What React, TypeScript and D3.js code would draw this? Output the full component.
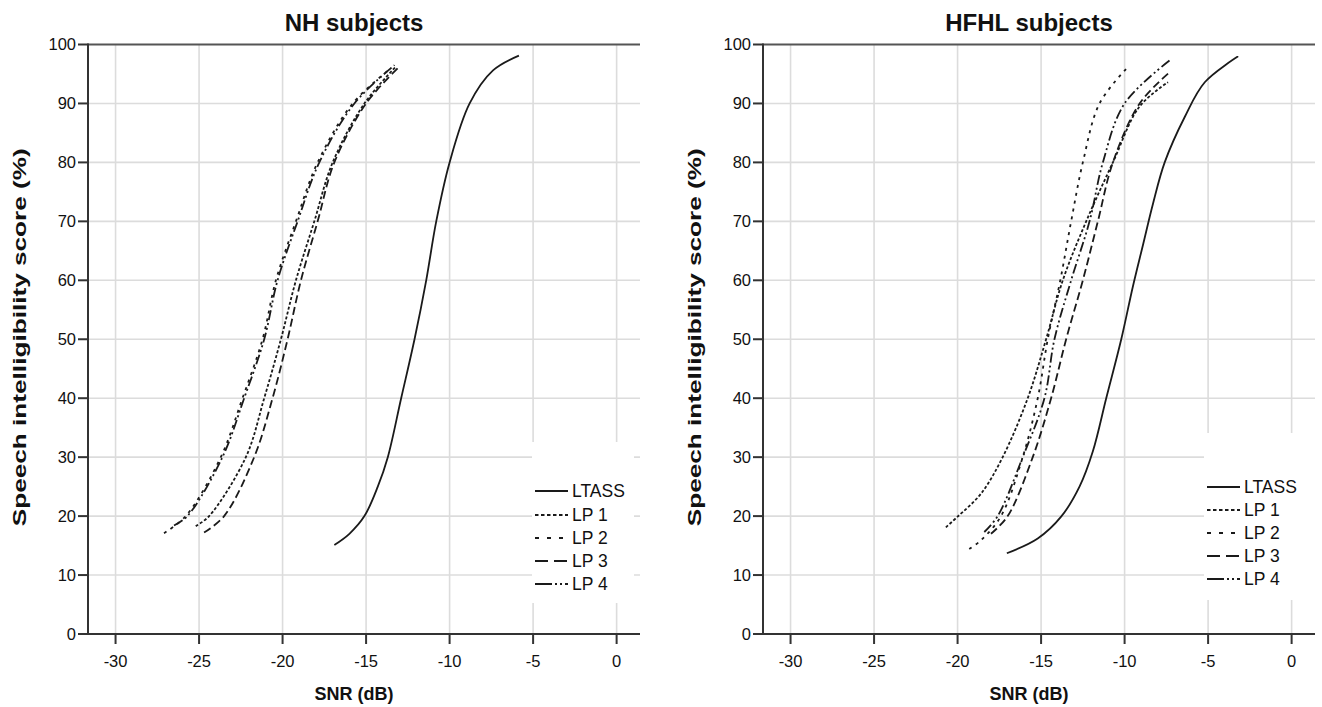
import React from 'react';
import * as d3 from 'd3';

type Pt = [number, number];

const xTicks = [-30, -25, -20, -15, -10, -5, 0];
const yTicks = [0, 10, 20, 30, 40, 50, 60, 70, 80, 90, 100];
const seriesNames = ['LTASS', 'LP 1', 'LP 2', 'LP 3', 'LP 4'];

// NH subjects: [SNR dB, score %]
const nhLTASS: Pt[] = [[-16.9, 15.1], [-16.0, 17.0], [-15.1, 20], [-14.3, 25], [-13.7, 30], [-12.9, 40], [-12.1, 50], [-11.4, 60], [-10.8, 70], [-10.0, 80], [-8.8, 90], [-7.4, 95.6], [-5.85, 98.1]];
const nhLP1: Pt[] = [[-25.2, 18.3], [-24.4, 20], [-22.2, 30], [-21.1, 40], [-20.1, 50], [-19.2, 60], [-18.1, 70], [-17.0, 80], [-15.1, 90], [-13.2, 96.3]];
const nhLP2: Pt[] = [[-27.1, 17.1], [-25.8, 20], [-23.7, 30], [-22.4, 40], [-21.2, 50], [-20.4, 60], [-19.2, 70], [-17.9, 80], [-15.8, 90], [-13.5, 96.0]];
const nhLP3: Pt[] = [[-24.7, 17.2], [-23.5, 20], [-21.7, 30], [-20.6, 40], [-19.7, 50], [-18.9, 60], [-17.9, 70], [-16.9, 80], [-15.0, 90], [-13.1, 96.0]];
const nhLP4: Pt[] = [[-26.5, 18.4], [-25.7, 20], [-23.6, 30], [-22.3, 40], [-21.1, 50], [-20.3, 60], [-19.1, 70], [-17.8, 80], [-15.7, 90], [-13.3, 96.5]];

// HFHL subjects
const hfLTASS: Pt[] = [[-17.05, 13.7], [-15.2, 16.2], [-13.8, 19.9], [-12.7, 25], [-11.9, 31], [-11.1, 40], [-10.2, 50], [-9.5, 59], [-8.9, 66], [-8.3, 73], [-7.6, 80], [-6.4, 87.7], [-5.2, 93.6], [-3.2, 98.0]];
const hfLP1: Pt[] = [[-20.7, 18.1], [-20.0, 19.9], [-18.6, 23.8], [-17.3, 30], [-15.8, 40], [-14.7, 50], [-13.7, 60], [-12.3, 70], [-10.7, 80], [-9.1, 89.5], [-7.4, 93.6]];
const hfLP2: Pt[] = [[-19.3, 14.4], [-18.6, 15.9], [-17.4, 20], [-16.1, 30], [-15.2, 40], [-14.6, 50], [-13.85, 60], [-13.2, 70], [-12.5, 80], [-11.5, 90], [-9.86, 96.0]];
const hfLP3: Pt[] = [[-18.0, 17.0], [-17.0, 20], [-15.5, 30], [-14.4, 40], [-13.5, 50], [-12.5, 60], [-11.6, 70], [-10.7, 80], [-9.1, 90], [-7.3, 95.3]];
const hfLP4: Pt[] = [[-18.4, 17.3], [-17.6, 20], [-16.1, 30], [-14.8, 40], [-14.2, 50], [-13.2, 60], [-12.1, 70], [-11.3, 80], [-10.0, 90], [-7.3, 97.3]];

const plotDash = ['', '3,2', '3,5', '8,4', '10,3,2,3,2,3'];
const legendDash = ['', '3.5,2.5', '4,8', '13,6', '17,3,2,3,2,3'];

const FONT = 'Arial, "Liberation Sans", Helvetica, sans-serif';
const INK = '#1a1a1a';

type PanelProps = {
  title: string;
  left: number;
  right: number;
  series: Pt[][];
  legendBox: { x0: number; x1: number; y0: number; y1: number };
  legendRows: number[];
  legendX: number;
};

const TOP = 44.5;
const BOTTOM = 634;

function Panel({ title, left, right, series, legendBox, legendRows, legendX }: PanelProps) {
  const x = d3.scaleLinear().domain([-31.65, 1.4]).range([left, right]);
  const y = d3.scaleLinear().domain([0, 100]).range([BOTTOM, TOP]);
  const line = d3
    .line<Pt>()
    .x((d) => x(d[0]))
    .y((d) => y(d[1]))
    .curve(d3.curveCatmullRom.alpha(0.5));
  const cx = (left + right) / 2 - 10;
  return (
    <g>
      {xTicks.map((t) => (
        <line key={'gx' + t} x1={x(t)} x2={x(t)} y1={TOP} y2={BOTTOM} stroke="#dcdcdc" strokeWidth={1.6} />
      ))}
      {yTicks.filter((t) => t > 0 && t < 100).map((t) => (
        <line key={'gy' + t} x1={left} x2={right} y1={y(t)} y2={y(t)} stroke="#dcdcdc" strokeWidth={1.6} />
      ))}
      <rect x={legendBox.x0} y={legendBox.y0} width={legendBox.x1 - legendBox.x0} height={legendBox.y1 - legendBox.y0} fill="#fff" />
      <line x1={left} x2={right} y1={TOP} y2={TOP} stroke="#555" strokeWidth={2} />
      {series.map((s, i) => (
        <path key={'s' + i} d={line(s) || ''} fill="none" stroke={INK} strokeWidth={1.8} strokeDasharray={plotDash[i] || undefined} />
      ))}
      <line x1={left} x2={left} y1={TOP - 1} y2={BOTTOM + 1} stroke="#333" strokeWidth={2} />
      <line x1={left - 1} x2={right} y1={BOTTOM} y2={BOTTOM} stroke="#333" strokeWidth={2} />
      {yTicks.map((t) => (
        <g key={'yt' + t}>
          <line x1={left - 10} x2={left} y1={y(t)} y2={y(t)} stroke="#333" strokeWidth={2} />
          <text x={left - 12} y={y(t)} dy="0.36em" textAnchor="end" fontSize={16.5} fontFamily={FONT} fill="#111">
            {t}
          </text>
        </g>
      ))}
      {xTicks.map((t) => (
        <g key={'xt' + t}>
          <line x1={x(t)} x2={x(t)} y1={BOTTOM} y2={BOTTOM + 10} stroke="#333" strokeWidth={2} />
          <text x={x(t)} y={BOTTOM + 33} textAnchor="middle" fontSize={16.5} fontFamily={FONT} fill="#111">
            {t}
          </text>
        </g>
      ))}
      {seriesNames.map((n, i) => (
        <g key={'lg' + i}>
          <line x1={legendX} x2={legendX + 33} y1={legendRows[i]} y2={legendRows[i]} stroke={INK} strokeWidth={1.8} strokeDasharray={legendDash[i] || undefined} />
          <text x={legendX + 37} y={legendRows[i]} dy="0.36em" fontSize={17.5} fontFamily={FONT} fill="#111">
            {n}
          </text>
        </g>
      ))}
      <text x={cx} y={31} textAnchor="middle" fontSize={24} fontWeight="bold" fontFamily={FONT} fill="#111">
        {title}
      </text>
      <text x={cx} y={700} textAnchor="middle" fontSize={18} fontWeight="bold" fontFamily={FONT} fill="#111">
        SNR (dB)
      </text>
      <text
        transform={`translate(${left - 62},${(TOP + BOTTOM) / 2 - 2}) rotate(-90)`}
        textAnchor="middle"
        fontSize={18}
        fontWeight="bold"
        fontFamily={FONT}
        fill="#111"
        textLength={378}
        lengthAdjust="spacingAndGlyphs"
      >
        Speech intelligibility score (%)
      </text>
    </g>
  );
}

export default function App() {
  return (
    <svg width={1322} height={707} style={{ position: 'absolute', left: 0, top: 0, background: '#fff' }}>
      <rect width={1322} height={707} fill="#fff" />
      <Panel
        title="NH subjects"
        left={88}
        right={640}
        series={[nhLTASS, nhLP1, nhLP2, nhLP3, nhLP4]}
        legendBox={{ x0: 532, x1: 634, y0: 442, y1: 603 }}
        legendRows={[491, 515, 538, 561, 584]}
        legendX={535}
      />
      <Panel
        title="HFHL subjects"
        left={763}
        right={1315}
        series={[hfLTASS, hfLP1, hfLP2, hfLP3, hfLP4]}
        legendBox={{ x0: 1204, x1: 1316, y0: 433, y1: 600 }}
        legendRows={[487, 510, 533, 556, 579]}
        legendX={1207}
      />
    </svg>
  );
}
